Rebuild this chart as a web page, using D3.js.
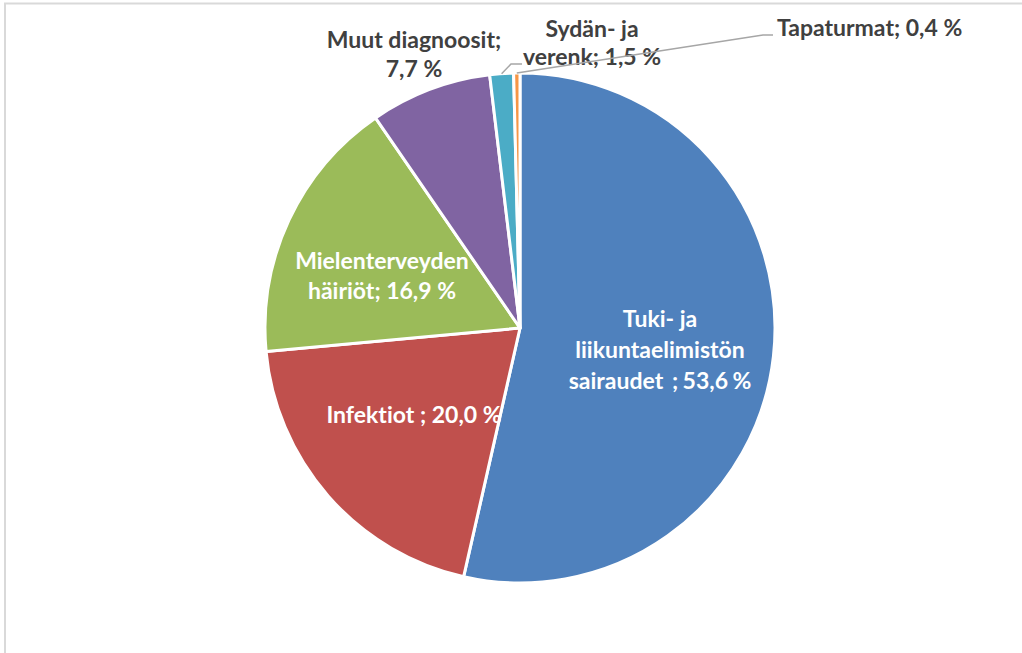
<!DOCTYPE html>
<html><head><meta charset="utf-8">
<script src="https://cdn.jsdelivr.net/npm/d3@7"></script>
<style>body{margin:0;background:#fff}svg{display:block}text{white-space:pre;font-variant-ligatures:none}</style>
</head><body>
<svg id="c" width="1022" height="653"></svg>
<script>
const categories = ["Tuki- ja liikuntaelimistön sairaudet", "Infektiot", "Mielenterveyden häiriöt", "Muut diagnoosit", "Sydän- ja verenk", "Tapaturmat"];
const values = [53.6, 20.0, 16.9, 7.7, 1.5, 0.4];
const labelLines = [
  ["Tuki- ja", "liikuntaelimistön", "sairaudet  ; 53,6 %"],
  ["Infektiot ; 20,0 %"],
  ["Mielenterveyden", "häiriöt; 16,9 %"],
  ["Muut diagnoosit;", "7,7 %"],
  ["Sydän- ja", "verenk; 1,5 %"],
  ["Tapaturmat; 0,4 %"]
];
const colors = ["#4F81BD", "#C0504D", "#9BBB59", "#8064A2", "#4BACC6", "#F79646"];

const svg = d3.select("#c");
// frame
svg.append("path").attr("d", "M5,653 V3.5 H1022").attr("fill", "none").attr("stroke", "#d9d9d9").attr("stroke-width", 2);

const cx = 520, cy = 328, R = 255;
const g = svg.append("g").attr("transform", `translate(${cx},${cy})`);
const pie = d3.pie().sort(null).value(d => d)(values);
const arc = d3.arc().innerRadius(0).outerRadius(R);
g.selectAll("path.s").data(pie).join("path").attr("class", "s")
  .attr("d", arc).attr("fill", (d, i) => colors[i])
  .attr("stroke", "#fff").attr("stroke-width", 3).attr("stroke-linejoin", "round");

const font = "Lato, 'Open Sans', sans-serif";
const fs = 23, lh = 30;

function drawLabel(lines, x, yFirstBaseline, fill, anchor, spacing) {
  const t = svg.append("text").attr("font-family", font).attr("font-weight", "bold")
    .attr("font-size", fs).attr("fill", fill).attr("text-anchor", anchor || "middle");
  lines.forEach((s, k) => t.append("tspan").attr("x", x).attr("y", yFirstBaseline + k * (spacing || lh))
    .attr("word-spacing", s.includes("  ") ? -1.2 : 0).text(s));
  return t;
}

// label anchor layout: [x, first baseline, anchor, line spacing, colour]
const white = "#fff", dark = "#404040";
const layout = [
  [660, 327, "middle", 31, white],
  [414, 423, "middle", 30, white],
  [382, 269, "middle", 30, white],
  [414, 48, "middle", 29, dark],
  [592, 37, "middle", 28, dark],
  [777, 36, "start", 30, dark]
];
labelLines.forEach((lines, i) => {
  const [x, y, a, sp, col] = layout[i];
  drawLabel(lines, x, y, col, a, sp);
});

// leader lines from slice edges
function edgePoint(d, rr) {
  const a = (d.startAngle + d.endAngle) / 2;
  return [cx + Math.sin(a) * rr, cy - Math.cos(a) * rr];
}
const p4 = edgePoint(pie[4], R);
const p5 = edgePoint(pie[5], R);
const line = d3.line();
svg.append("path").attr("d", line([p4, [511, 64], [522, 64]]))
  .attr("fill", "none").attr("stroke", "#a6a6a6").attr("stroke-width", 1.5);
svg.append("path").attr("d", line([p5, [763, 35], [773, 35]]))
  .attr("fill", "none").attr("stroke", "#a6a6a6").attr("stroke-width", 1.5);
</script>
</body></html>
